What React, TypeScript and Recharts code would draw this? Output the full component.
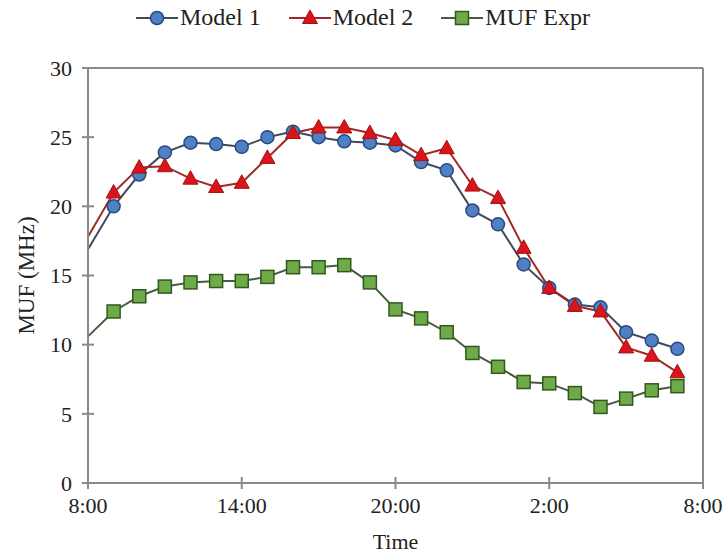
import { LineChart, Line, XAxis, YAxis, Legend, ReferenceLine } from 'recharts';

// hours after 8:00
const hours = [0, 1, 2, 3, 4, 5, 6, 7, 8, 9, 10, 11, 12, 13, 14, 15, 16, 17, 18, 19, 20, 21, 22, 23];
const model1 = [16.9, 20.0, 22.3, 23.9, 24.6, 24.5, 24.3, 25.0, 25.4, 25.0, 24.7, 24.6, 24.4, 23.2, 22.6, 19.7, 18.7, 15.8, 14.1, 12.9, 12.7, 10.9, 10.3, 9.7];
const model2 = [17.8, 21.0, 22.8, 22.9, 22.0, 21.4, 21.7, 23.5, 25.3, 25.7, 25.7, 25.3, 24.8, 23.7, 24.2, 21.5, 20.6, 17.0, 14.1, 12.8, 12.4, 9.8, 9.2, 8.0];
const mufExpr = [10.6, 12.4, 13.5, 14.2, 14.5, 14.6, 14.6, 14.9, 15.6, 15.6, 15.75, 14.5, 12.55, 11.9, 10.9, 9.4, 8.4, 7.3, 7.2, 6.5, 5.5, 6.1, 6.7, 7.0];

const xTicks = [0, 6, 12, 18, 24];
const xTickLabels = ['8:00', '14:00', '20:00', '2:00', '8:00'];
const yTicks = [0, 5, 10, 15, 20, 25, 30];

const data = hours.map((h, i) => ({ h, m1: model1[i], m2: model2[i], muf: mufExpr[i] }));

const FONT = '"Liberation Serif", "Times New Roman", serif';
const AXIS = '#8a8a8a';

const C1 = { line: '#3e4a5e', fill: '#4f7fc4', stroke: '#2c4a7a' };
const C2 = { line: '#a02a2a', fill: '#d9141b', stroke: '#a51212' };
const C3 = { line: '#4a5a3c', fill: '#6eaa4a', stroke: '#2f5a1c' };

const circleDot = (cx: number, cy: number) => (
    <circle cx={cx} cy={cy} r={6.5} fill={C1.fill} stroke={C1.stroke} strokeWidth={1.5} />
);
const triDot = (cx: number, cy: number) => (
    <polygon points={`${cx},${cy - 8} ${cx + 7.5},${cy + 5.5} ${cx - 7.5},${cy + 5.5}`} fill={C2.fill} stroke={C2.stroke} strokeWidth={1} />
);
const sqDot = (cx: number, cy: number) => (
    <rect x={cx - 6.5} y={cy - 6.5} width={13} height={13} fill={C3.fill} stroke={C3.stroke} strokeWidth={1.5} />
);

// first point sits on the axis without a marker
const seriesDot = (draw: (cx: number, cy: number) => any, k: string) => (p: any) =>
    <g key={`${k}${p.index}`}>{p.index > 0 ? draw(p.cx, p.cy) : null}</g>;

const XTick = (props: any) => {
    const { x, y, payload } = props;
    const idx = xTicks.indexOf(payload.value);
    return (
        <g>
            <line x1={x} x2={x} y1={y - 6} y2={y + 6} stroke={AXIS} strokeWidth={2} />
            <text x={x} y={y + 30} textAnchor="middle" fontFamily={FONT} fontSize={22} fill="#222">
                {xTickLabels[idx]}
            </text>
        </g>
    );
};

const YTick = (props: any) => {
    const { x, y, payload } = props;
    return (
        <g>
            <line x1={x - 6} x2={x + 6} y1={y} y2={y} stroke={AXIS} strokeWidth={2} />
            <text x={x - 16} y={y} dy="0.35em" textAnchor="end" fontFamily={FONT} fontSize={22} fill="#222">
                {payload.value}
            </text>
        </g>
    );
};

const legendItems = [
    { name: 'Model 1', c: C1, dot: circleDot },
    { name: 'Model 2', c: C2, dot: triDot },
    { name: 'MUF Expr', c: C3, dot: sqDot },
];

const LegendContent = () => (
    <div style={{ display: 'flex', alignItems: 'center', paddingLeft: 136, fontFamily: FONT, fontSize: 24, color: '#222' }}>
        {legendItems.map((it) => (
            <div key={it.name} style={{ display: 'flex', alignItems: 'center', marginRight: 28 }}>
                <svg width={42} height={20}>
                    <line x1={0} x2={42} y1={10} y2={10} stroke={it.c.line} strokeWidth={2} />
                    {it.dot(21, 10)}
                </svg>
                <span style={{ marginLeft: 2 }}>{it.name}</span>
            </div>
        ))}
    </div>
);

export default function App() {
    return (
        <div style={{ position: 'absolute', left: 0, top: 0, background: '#fff' }}>
            <LineChart width={727} height={556} data={data} margin={{ top: 68, right: 24, left: 0, bottom: 0 }}>
                <Legend verticalAlign="middle" content={<LegendContent />} wrapperStyle={{ top: 4, left: 0, width: 727 }} />
                <XAxis
                    dataKey="h"
                    type="number"
                    domain={[0, 24]}
                    ticks={xTicks}
                    tick={<XTick />}
                    tickLine={false}
                    tickSize={0}
                    tickMargin={0}
                    height={73}
                    axisLine={{ stroke: AXIS, strokeWidth: 2 }}
                    label={{ value: 'Time', position: 'insideBottom', offset: 7, fontFamily: FONT, fontSize: 22, fill: '#222' }}
                />
                <YAxis
                    type="number"
                    domain={[0, 30]}
                    ticks={yTicks}
                    tick={<YTick />}
                    tickLine={false}
                    tickSize={0}
                    tickMargin={0}
                    width={88}
                    axisLine={{ stroke: AXIS, strokeWidth: 2 }}
                    label={{ value: 'MUF (MHz)', angle: -90, position: 'insideLeft', offset: 26, style: { textAnchor: 'middle' }, fontFamily: FONT, fontSize: 23, fill: '#222' }}
                />
                <ReferenceLine y={30} stroke={AXIS} strokeWidth={2} />
                <ReferenceLine x={24} stroke={AXIS} strokeWidth={2} />
                <Line dataKey="m1" name="Model 1" stroke={C1.line} strokeWidth={2} isAnimationActive={false} dot={seriesDot(circleDot, 'c')} />
                <Line dataKey="m2" name="Model 2" stroke={C2.line} strokeWidth={2} isAnimationActive={false} dot={seriesDot(triDot, 't')} />
                <Line dataKey="muf" name="MUF Expr" stroke={C3.line} strokeWidth={2} isAnimationActive={false} dot={seriesDot(sqDot, 's')} />
            </LineChart>
        </div>
    );
}
